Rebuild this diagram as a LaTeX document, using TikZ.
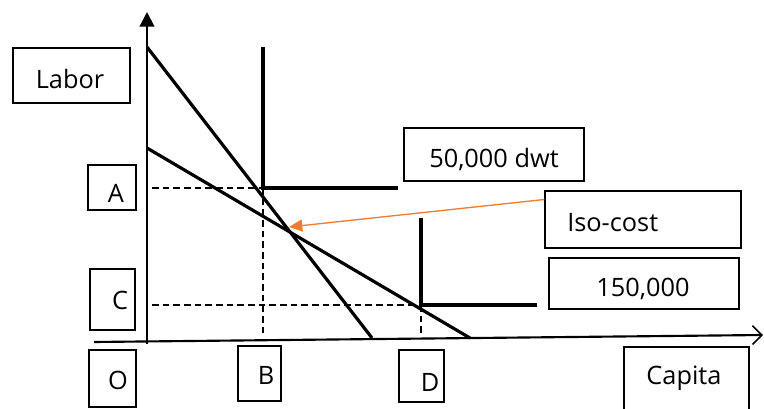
\documentclass[tikz,border=0pt]{standalone}
\usepackage{fontspec}
\setmainfont{Open Sans}
\usetikzlibrary{arrows.meta,fit}
\definecolor{isoorange}{RGB}{237,125,49}
\begin{document}
\begin{tikzpicture}[x=0.75pt,y=-0.75pt,
  box/.style={draw,line width=1pt,inner sep=0pt},
  lbl/.style={font=\fontsize{19}{22}\selectfont,inner sep=0pt,anchor=base},
  heavy/.style={line width=2.4pt},
  axis/.style={line width=1.6pt},
  guide/.style={line width=1pt,dash pattern=on 5pt off 3pt},
]
\useasboundingbox (0,0) rectangle (764,409);

% boxes
\node[box,fit={(13,48)(130,103)}] (labor) {};
\node[box,fit={(88,165)(136,210)}] (boxA) {};
\node[box,fit={(90,269)(135,330)}] (boxC) {};
\node[box,fit={(89,350)(136,407)}] (boxO) {};
\node[box,fit={(238,346)(281,401)}] (boxB) {};
\node[box,fit={(399,350)(444,402)}] (boxD) {};
\node[box,fit={(624,347)(749,416)}] (capita) {};
\node[box,fit={(404,128)(584,181)}] (dwt) {};
\node[box,fit={(545,191)(741,248)}] (iso) {};
\node[box,fit={(549,258)(739,309)}] (big) {};

% texts
\node[lbl] (tLabor) at (70,89) {Labor};
\node[lbl] (tA) at (116,203) {A};
\node[lbl] (tC) at (120,310) {C};
\node[lbl] (tO) at (118,390) {O};
\node[lbl] (tB) at (266,385) {B};
\node[lbl] (tD) at (430,392) {D};
\node[lbl] (tCap) at (684,385) {Capita};
\node[lbl] (tDwt) at (494,168) {50,000 dwt};
\node[lbl,anchor=base west] (tIso) at (567,232) {Iso-cost};
\node[lbl] (tBig) at (643,297) {150,000};

% coordinates
\coordinate (yb) at (147,344);
\coordinate (yt) at (147,12);
\coordinate (xl) at (94,342);
\coordinate (xr) at (763,335);
\coordinate (s1) at (147,47);
\coordinate (s2) at (372,338);
\coordinate (h1) at (147,148);
\coordinate (h2) at (470,338);
\coordinate (q1t) at (263,47);
\coordinate (q1) at (263,188);
\coordinate (q1r) at (398,188);
\coordinate (q2t) at (421,218);
\coordinate (q2) at (421,305);
\coordinate (q2r) at (537,305);
\coordinate (aL) at (152,188);
\coordinate (bB) at (263,335);
\coordinate (cL) at (152,305);
\coordinate (dB) at (421,337);
\coordinate (isopt) at (289,227);

% axes
\draw[axis,-{Triangle[length=11pt,width=11pt]}] (yb) -- (yt);
\draw[axis,-{Straight Barb[length=7pt,width=14pt,line width=1.2pt]}] (xl) -- (xr);

% guides
\draw[guide] (aL) -- (q1);
\draw[guide] (q1) -- (bB);
\draw[guide] (cL) -- (q2);
\draw[guide] (q2) -- (dB);

% budget lines
\draw[heavy] (s1) -- (s2);
\draw[heavy] (h1) -- (h2);

% isoquants
\draw[heavy] (q1t) -- (q1) -- (q1r);
\draw[heavy] (q2t) -- (q2) -- (q2r);

% orange arrow
\draw[isoorange,line width=1pt,-{Triangle[length=10pt,width=9pt]}] ([yshift=15pt]iso.west) -- (isopt);
\end{tikzpicture}
\end{document}
